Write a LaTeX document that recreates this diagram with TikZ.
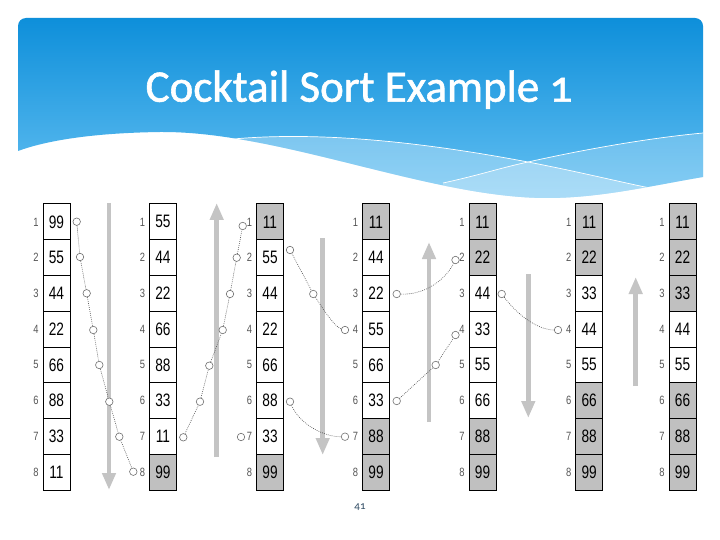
\documentclass[tikz,border=0pt]{standalone}
\usepackage{fontspec}
\usepackage{graphicx}
\setmainfont{Liberation Sans}
\newfontfamily\titlefont{Carlito}[Numbers=OldStyle, FakeBold=1.3]
\newfontfamily\pagefont{Carlito}[Numbers=OldStyle]
\usetikzlibrary{arrows.meta}
\definecolor{cell0}{HTML}{FFFFFF}
\definecolor{cell1}{HTML}{C0C0C0}
\definecolor{arrowgray}{HTML}{C4C4C4}
\definecolor{bantop}{RGB}{14,143,218}
\definecolor{banbot}{RGB}{100,192,242}
\definecolor{connc}{HTML}{505050}
\definecolor{ringc}{HTML}{707070}
\definecolor{idxc}{HTML}{555555}
\definecolor{pagec}{HTML}{2F4B63}
\newcommand\bannerpth{(18,151) -- (18,26) .. controls (18,21.6) and (21.6,18) .. (26,18) -- (695,18) .. controls (699.4,18) and (703,21.6) .. (703,26) -- (703,177) .. controls (650,186) and (600,198) .. (547,198) .. controls (430,198) and (280,131) .. (160,132) .. controls (90,133) and (45,141) .. (18,151) -- cycle}
\newcommand\sortcol[3]{%
  \foreach \v/\g [count=\r] in {#3} {
    \node[cellbox, fill=cell\g] (#1-\r) at ({#2+13.5},{204+35.75*(\r-0.5)}) {\scalebox{0.76}[1]{\v}};
    \node[idxlabel] (#1i\r) at ({#2-7},{204+35.75*(\r-0.5)}) {\scalebox{0.78}[1]{\r}};
  }}
\tikzset{
  cellbox/.style={draw=black, line width=1pt, minimum width=27pt, minimum height=35.75pt, inner sep=0pt, font=\fontsize{18}{18}\selectfont, text=black},
  idxlabel/.style={inner sep=0pt, font=\fontsize{12}{12}\selectfont, text=idxc},
  ring/.style={circle, draw=ringc, fill=white, line width=0.6pt, minimum size=7.5pt, inner sep=0pt},
  conn/.style={draw=connc, line width=0.6pt, dash pattern=on 0.8pt off 1.2pt},
  bigarrow/.style={draw=arrowgray, line width=4.5pt, -{Triangle[width=13pt,length=17pt]}},
}
\begin{document}
\begin{tikzpicture}[x=1pt,y=-1pt]
\useasboundingbox (0,0) rectangle (720,540);
\fill[white] (0,0) rectangle (720,540);
% banner
\shade[top color=bantop, bottom color=banbot] \bannerpth;
\begin{scope}
  \clip \bannerpth;
  \fill[white, opacity=0.3] (233,139) .. controls (290,134) and (380,134) .. (528,162) .. controls (580,172) and (620,182) .. (650,188) -- (650,230) -- (233,230) -- cycle;
  \fill[white, opacity=0.22] (443,183) .. controls (480,175) and (500,168) .. (528,162) .. controls (600,146) and (660,137) .. (703,133) -- (703,230) -- (443,230) -- cycle;
  \draw[white, line width=0.7pt] (233,139) .. controls (290,134) and (380,134) .. (528,162) .. controls (580,172) and (620,182) .. (650,188);
  \draw[white, line width=0.7pt] (443,183) .. controls (480,175) and (500,168) .. (528,162) .. controls (600,146) and (660,137) .. (703,133);
\end{scope}
\node[font=\titlefont\fontsize{45}{45}\selectfont, text=white, anchor=base] (title) at (359,101.7) {Cocktail Sort Example 1};
% columns
\sortcol{k1}{43}{99/0,55/0,44/0,22/0,66/0,88/0,33/0,11/0}
\sortcol{k2}{149.5}{55/0,44/0,22/0,66/0,88/0,33/0,11/0,99/1}
\sortcol{k3}{256.5}{11/1,55/0,44/0,22/0,66/0,88/0,33/0,99/1}
\sortcol{k4}{362.5}{11/1,44/0,22/0,55/0,66/0,33/0,88/1,99/1}
\sortcol{k5}{469}{11/1,22/1,44/0,33/0,55/0,66/0,88/1,99/1}
\sortcol{k6}{575.7}{11/1,22/1,33/0,44/0,55/0,66/1,88/1,99/1}
\sortcol{k7}{669}{11/1,22/1,33/1,44/0,55/0,66/1,88/1,99/1}
% big arrows
\coordinate (ar1s) at (109,203);   \coordinate (ar1e) at (109,490);
\coordinate (ar2s) at (216.7,457); \coordinate (ar2e) at (216.7,203);
\coordinate (ar3s) at (322.7,238); \coordinate (ar3e) at (322.7,455);
\coordinate (ar4s) at (429,422);   \coordinate (ar4e) at (429,242);
\coordinate (ar5s) at (528.3,274); \coordinate (ar5e) at (528.3,418);
\coordinate (ar6s) at (635.7,386); \coordinate (ar6e) at (635.7,277);
\foreach \i in {1,...,6} {\draw[bigarrow] (ar\i s) -- (ar\i e);}
% rings
\node[ring] (a1) at (76.7,221.7) {};
\node[ring] (a2) at (80,257) {};
\node[ring] (a3) at (86.7,293.3) {};
\node[ring] (a4) at (93.3,330) {};
\node[ring] (a5) at (99.3,365) {};
\node[ring] (a6) at (109.3,401.7) {};
\node[ring] (a7) at (119.3,436.7) {};
\node[ring] (a8) at (133.3,471.7) {};
\node[ring] (b7) at (183.3,437.3) {};
\node[ring] (b6) at (200,401.7) {};
\node[ring] (b5) at (209.3,365.7) {};
\node[ring] (b4) at (222.7,330) {};
\node[ring] (b3) at (230,294) {};
\node[ring] (b2) at (236.7,257.7) {};
\node[ring] (b1) at (242.7,226) {};
\node[ring] (lone) at (241,437) {};
\node[ring] (c2) at (290,250) {};
\node[ring] (c3) at (313.3,294) {};
\node[ring] (c4) at (345,330) {};
\node[ring] (d6) at (290,401.7) {};
\node[ring] (d7) at (345,436.7) {};
\node[ring] (e3) at (396.7,294) {};
\node[ring] (e2) at (455.5,260) {};
\node[ring] (f6) at (396.7,401) {};
\node[ring] (f5) at (435.7,365) {};
\node[ring] (f4) at (455.5,335) {};
\node[ring] (g3) at (501.7,294) {};
\node[ring] (g4) at (558,330) {};
% connectors
\draw[conn] (a1) -- (a2) -- (a3) -- (a4) -- (a5) -- (a6) -- (a7) -- (a8);
\draw[conn] (b7) -- (b6) -- (b5) -- (b4) -- (b3) -- (b2) -- (b1);
\draw[conn] (c2) -- (c3);
\draw[conn] (c3) .. controls (325,312) and (335,327) .. (c4);
\draw[conn] (d6) .. controls (300,425) and (325,437) .. (d7);
\draw[conn] (e3) .. controls (425,295) and (445,280) .. (e2);
\draw[conn] (f6) -- (f5) -- (f4);
\draw[conn] (g3) .. controls (520,318) and (540,330) .. (g4);
% page number
\node[font=\pagefont\fontsize{11}{11}\selectfont, text=pagec] (page) at (360,507.5) {41};
\end{tikzpicture}
\end{document}
